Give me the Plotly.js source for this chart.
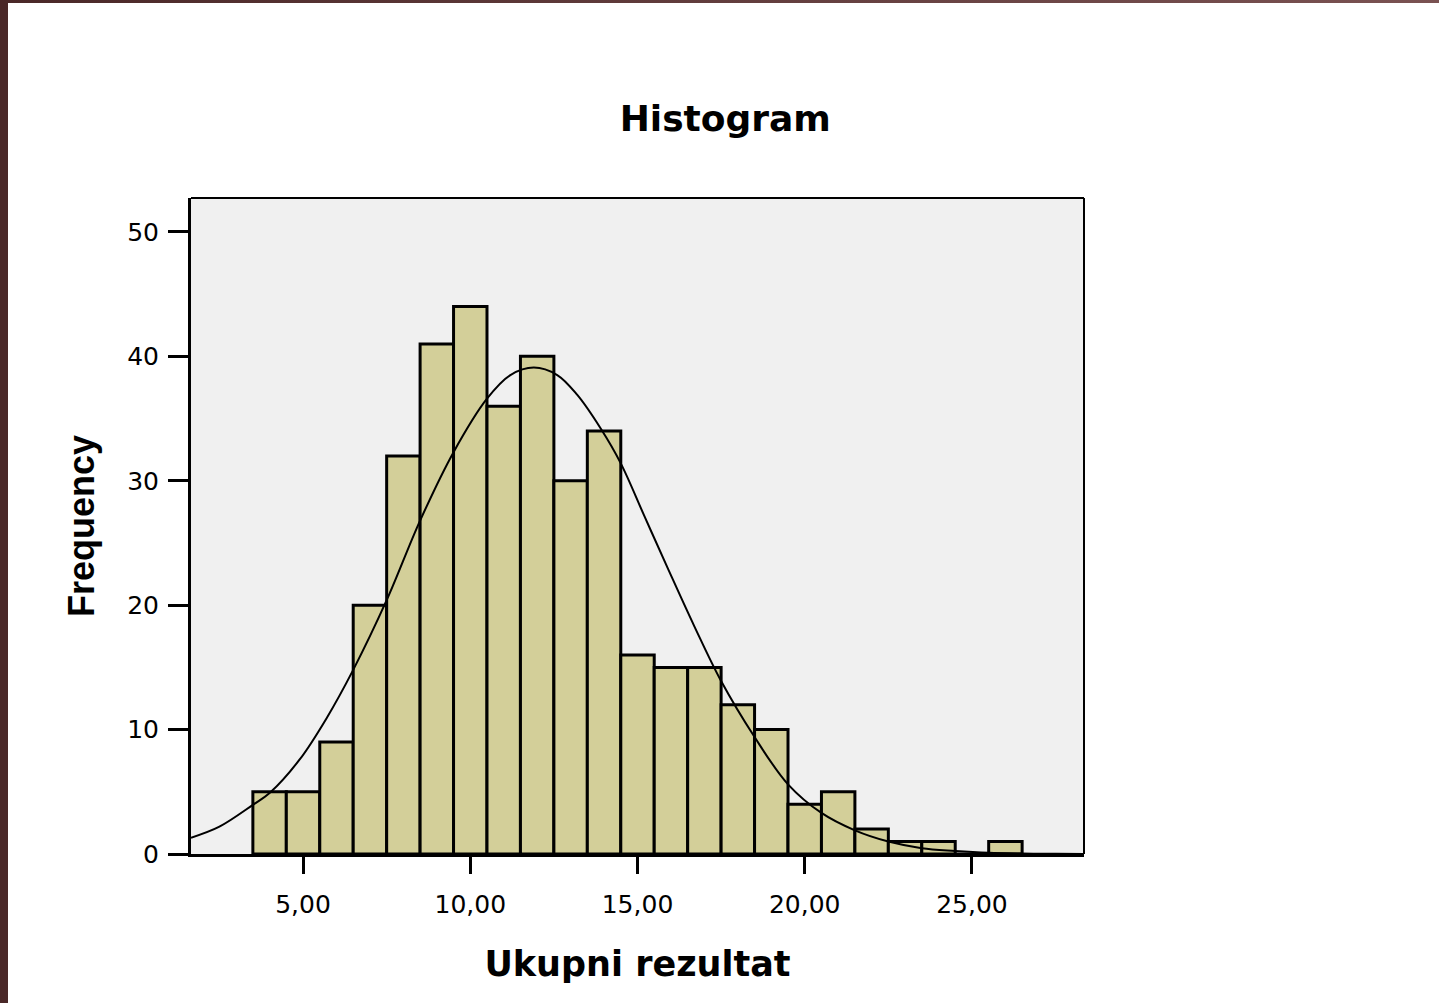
<!DOCTYPE html>
<html>
<head>
<meta charset="utf-8">
<script src="https://cdn.plot.ly/plotly-3.0.1.min.js"></script>
<style>
  html, body { margin: 0; padding: 0; background: #ffffff; overflow: hidden; }
  #chart { position: absolute; left: 0; top: 0; width: 1439px; height: 1003px; }
  #bl { position: absolute; left: 0; top: 0; width: 8px; height: 1003px; background: #4a2828; }
  #bt { position: absolute; left: 0; top: 0; width: 1439px; height: 3px; background: linear-gradient(to right, #4a2828, #7a5252); }
</style>
</head>
<body>
<div id="chart"></div>
<div id="bl"></div>
<div id="bt"></div>
<script>
// Histogram bins (bin centres) and frequencies
const binCenters = [4, 5, 6, 7, 8, 9, 10, 11, 12, 13, 14, 15, 16, 17, 18, 19, 20, 21, 22, 23, 24, 25, 26];
const frequencies = [5, 5, 9, 20, 32, 41, 44, 36, 40, 30, 34, 16, 15, 15, 12, 10, 4, 5, 2, 1, 1, 0, 1];

// Normal curve points
const curveX = [1.65, 2.5, 3.5, 4.0, 4.9, 5.7, 6.5, 7.5, 8.5, 9.5, 10.5, 11.2, 11.9, 12.6, 13.2, 13.9, 14.5, 15.2, 15.9, 16.7, 17.5, 18.5, 19.5, 20.5, 21.5, 22.5, 23.5, 24.5, 25.5, 26.5, 27.5, 28.35];
const curveY = [1.31, 2.2, 3.95, 4.9, 7.6, 10.9, 14.8, 20.4, 26.8, 32.3, 36.6, 38.5, 39.1, 38.5, 36.9, 34.2, 31.4, 27.2, 23.0, 18.3, 13.9, 9.4, 5.6, 3.3, 1.9, 1.0, 0.47, 0.25, 0.1, 0.04, 0.015, 0.006];

const xTickVals = [5, 10, 15, 20, 25];
const xTickText = ['5,00', '10,00', '15,00', '20,00', '25,00'];
const yTickVals = [0, 10, 20, 30, 40, 50];

const chartTitle = 'Histogram';
const xTitle = 'Ukupni rezultat';
const yTitle = 'Frequency';

const traces = [
  {
    type: 'bar',
    x: binCenters,
    y: frequencies,
    width: 1,
    marker: { color: '#d3cf99', line: { color: '#000000', width: 3 } },
    hoverinfo: 'x+y',
    showlegend: false
  },
  {
    type: 'scatter',
    mode: 'lines',
    x: curveX,
    y: curveY,
    line: { color: '#000000', width: 2, shape: 'spline', smoothing: 1 },
    hoverinfo: 'skip',
    showlegend: false
  }
];

const layout = {
  width: 1439,
  height: 1003,
  margin: { l: 191, r: 355, t: 198, b: 149 },
  paper_bgcolor: '#ffffff',
  plot_bgcolor: '#f0f0f0',
  bargap: 0,
  showlegend: false,
  title: {
    text: chartTitle,
    font: { family: 'DejaVu Sans', size: 36, color: '#000000', weight: 'bold' },
    xref: 'container', x: 0.504, xanchor: 'center',
    yref: 'container', y: 0.882, yanchor: 'middle'
  },
  xaxis: {
    range: [1.65, 28.35],
    tickvals: xTickVals,
    ticktext: xTickText,
    ticks: 'outside',
    ticklen: 17,
    tickwidth: 3,
    tickcolor: '#000000',
    ticklabelstandoff: 9,
    showline: true,
    linewidth: 3,
    linecolor: '#000000',
    showgrid: false,
    zeroline: false,
    tickfont: { family: 'DejaVu Sans', size: 25, color: '#000000' },
    title: {
      text: xTitle,
      font: { family: 'DejaVu Sans', size: 35, color: '#000000', weight: 'bold' },
      standoff: 34
    }
  },
  yaxis: {
    range: [0, 52.73],
    tickvals: yTickVals,
    ticks: 'outside',
    ticklen: 20,
    tickwidth: 3,
    tickcolor: '#000000',
    ticklabelstandoff: 4,
    showline: true,
    linewidth: 3,
    linecolor: '#000000',
    showgrid: false,
    zeroline: false,
    tickfont: { family: 'DejaVu Sans', size: 25, color: '#000000' },
    title: {
      text: yTitle,
      font: { family: 'Liberation Sans', size: 36, color: '#000000', weight: 'bold' },
      standoff: 22
    }
  },
  shapes: [
    { type: 'line', xref: 'paper', yref: 'paper', x0: 0, x1: 1, y0: 1, y1: 1, line: { color: '#000000', width: 2 }, layer: 'above' },
    { type: 'line', xref: 'paper', yref: 'paper', x0: 1, x1: 1, y0: 0, y1: 1, line: { color: '#000000', width: 2 }, layer: 'above' }
  ]
};

Plotly.newPlot('chart', traces, layout, { displayModeBar: false, staticPlot: true });
</script>
</body>
</html>
